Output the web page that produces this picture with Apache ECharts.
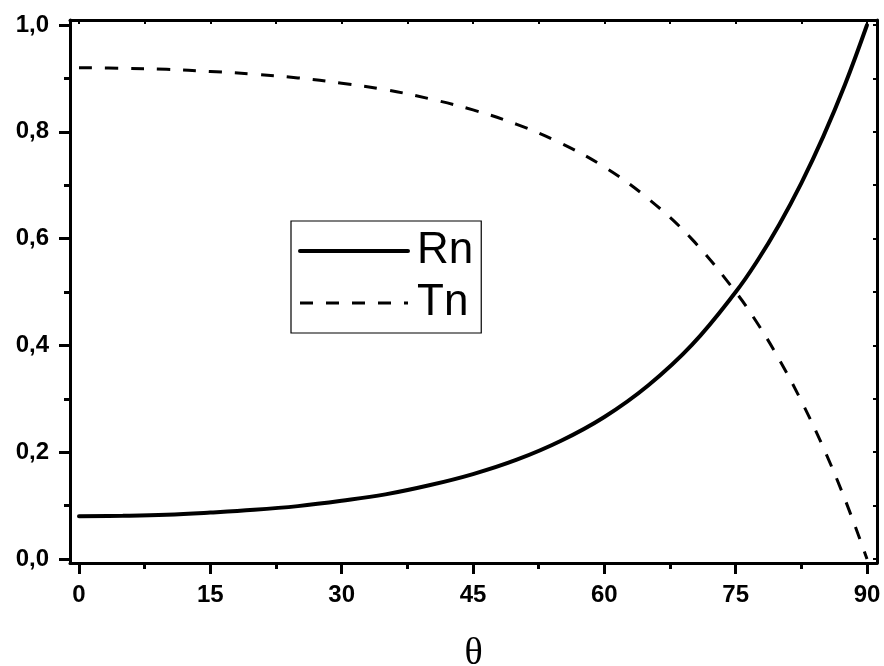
<!DOCTYPE html>
<html>
<head>
<meta charset="utf-8">
<script src="https://cdn.jsdelivr.net/npm/echarts@6/dist/echarts.min.js"></script>
<style>html,body{margin:0;padding:0;background:#fff}#c{width:884px;height:666px}</style>
</head>
<body>
<div id="c"></div>
<script>
// angles (degrees)
var theta = [0, 5, 10, 15, 20, 25, 30, 35, 40, 45, 50, 55, 60, 65, 70, 75, 77.5, 80, 82.5, 85, 87.5, 90];
// reflectance Rn
var rn = [0.080, 0.081, 0.083, 0.087, 0.092, 0.099, 0.109, 0.121, 0.138, 0.159, 0.186, 0.221, 0.266, 0.325, 0.401, 0.500, 0.559, 0.627, 0.704, 0.791, 0.889, 1.000];
// transmittance Tn
var tn = [0.920, 0.919, 0.917, 0.913, 0.908, 0.901, 0.891, 0.879, 0.862, 0.841, 0.814, 0.779, 0.734, 0.675, 0.599, 0.500, 0.441, 0.373, 0.296, 0.209, 0.111, 0.000];
var xMajor = [0, 15, 30, 45, 60, 75, 90];
var xMinor = [7.5, 22.5, 37.5, 52.5, 67.5, 82.5];
var yMajor = [0, 0.2, 0.4, 0.6, 0.8, 1.0];
var yMinor = [0.1, 0.3, 0.5, 0.7, 0.9];
var xAll = xMajor.concat(xMinor);
var yAll = yMajor.concat(yMinor);

var XMIN = -1.028, XMAX = 91.142, YMIN = -0.0075, YMAX = 1.0094;
var black = '#000';
var FONT = 'Liberation Sans, Arial';

function pairs(xs, ys) { return xs.map(function (x, i) { return [x, ys[i]]; }); }

var chart = echarts.init(document.getElementById('c'), null, {renderer: 'canvas'});
chart.setOption({
  animation: false,
  backgroundColor: '#fff',
  grid: {left: 70, right: 7, top: 20, bottom: 103, containLabel: false, outerBoundsMode: 'none'},
  legend: {
    orient: 'vertical', left: 291, top: 221,
    data: ['Rn', 'Tn'],
    itemWidth: 108, itemHeight: 2, itemGap: 6,
    padding: [7, 8, 7, 7],
    borderColor: black, borderWidth: 1.2,
    itemStyle: {opacity: 0},
    lineStyle: {width: 'inherit', type: 'inherit'},
    textStyle: {color: black, fontSize: 44, lineHeight: 46, fontFamily: FONT, padding: [0, 0, 0, 4]},
    selectedMode: false
  },
  xAxis: [
    {type: 'value', position: 'bottom', min: XMIN, max: XMAX,
      name: 'θ', nameLocation: 'middle', nameGap: 72,
      nameTextStyle: {fontFamily: 'Liberation Serif, Times New Roman', fontSize: 38, color: black},
      axisLine: {show: true, onZero: false, lineStyle: {color: black, width: 3}},
      axisTick: {show: true, customValues: xMajor, length: 11, lineStyle: {color: black, width: 3}},
      axisLabel: {customValues: xMajor, margin: 20, formatter: function (v) { return String(Math.round(v)); }, color: black, fontFamily: FONT, fontWeight: 'bold', fontSize: 24},
      splitLine: {show: false}},
    {type: 'value', position: 'bottom', min: XMIN, max: XMAX,
      axisLine: {show: false, onZero: false},
      axisTick: {show: true, customValues: xMinor, length: 6, lineStyle: {color: black, width: 3}},
      axisLabel: {show: false}, splitLine: {show: false}},
    {type: 'value', position: 'top', min: XMIN, max: XMAX,
      axisLine: {show: true, onZero: false, lineStyle: {color: black, width: 3}},
      axisTick: {show: true, inside: true, customValues: xAll, length: 4, lineStyle: {color: black, width: 2}},
      axisLabel: {show: false}, splitLine: {show: false}}
  ],
  yAxis: [
    {type: 'value', position: 'left', min: YMIN, max: YMAX,
      axisLine: {show: true, onZero: false, lineStyle: {color: black, width: 3}},
      axisTick: {show: true, customValues: yMajor, length: 11, lineStyle: {color: black, width: 3}},
      axisLabel: {customValues: yMajor, margin: 21, formatter: function (v) { return v.toFixed(1).replace('.', ','); }, color: black, fontFamily: FONT, fontWeight: 'bold', fontSize: 24},
      splitLine: {show: false}},
    {type: 'value', position: 'left', min: YMIN, max: YMAX,
      axisLine: {show: false, onZero: false},
      axisTick: {show: true, customValues: yMinor, length: 6, lineStyle: {color: black, width: 3}},
      axisLabel: {show: false}, splitLine: {show: false}},
    {type: 'value', position: 'right', min: YMIN, max: YMAX,
      axisLine: {show: true, onZero: false, lineStyle: {color: black, width: 3}},
      axisTick: {show: true, inside: true, customValues: yAll, length: 4, lineStyle: {color: black, width: 2}},
      axisLabel: {show: false}, splitLine: {show: false}}
  ],
  series: [
    {name: 'Rn', type: 'line', xAxisIndex: 0, yAxisIndex: 0, data: pairs(theta, rn),
      symbol: 'none', smooth: 0.4,
      lineStyle: {color: black, width: 4, cap: 'round'}, itemStyle: {color: black}},
    {name: 'Tn', type: 'line', xAxisIndex: 0, yAxisIndex: 0, data: pairs(theta, tn),
      symbol: 'none', smooth: 0.4,
      lineStyle: {color: black, width: 3, type: [13, 13]}, itemStyle: {color: black}}
  ]
});
</script>
</body>
</html>
